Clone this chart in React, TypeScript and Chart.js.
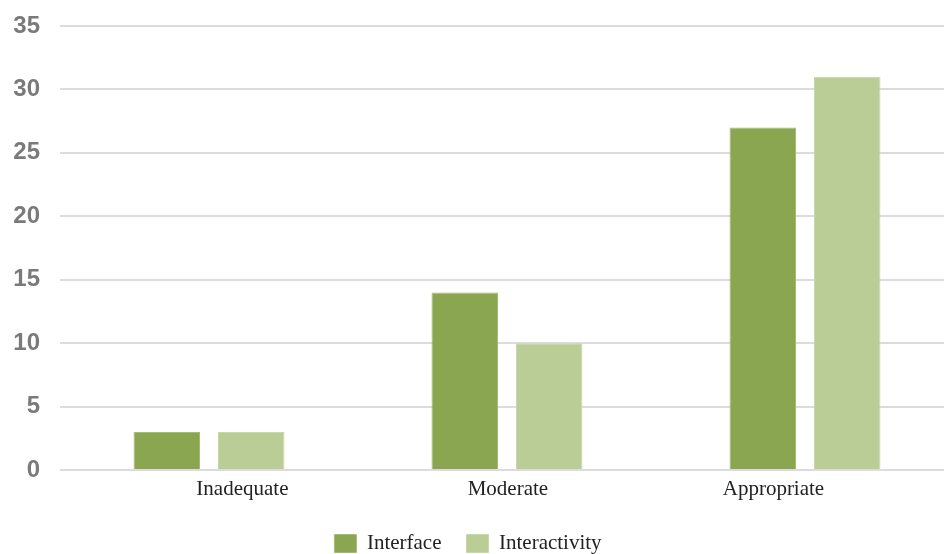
import React, { useEffect, useRef } from "react";
import { Chart, registerables } from "chart.js";

Chart.register(...registerables);

const categories = ["Inadequate", "Moderate", "Appropriate"];
const interfaceValues = [3, 14, 27];
const interactivityValues = [3, 10, 31];
const seriesNames = ["Interface", "Interactivity"];

export default function App() {
  const ref = useRef<HTMLCanvasElement | null>(null);
  useEffect(() => {
    document.documentElement.style.overflow = "hidden";
    if (!ref.current) return;
    const chart = new Chart(ref.current, {
      type: "bar",
      data: {
        labels: categories,
        datasets: [
          {
            label: seriesNames[0],
            data: interfaceValues,
            backgroundColor: "#8ba650",
            borderColor: "#a3bb72",
            borderWidth: 1,
            barPercentage: 0.787,
            categoryPercentage: 0.567,
          },
          {
            label: seriesNames[1],
            data: interactivityValues,
            backgroundColor: "#bacd96",
            borderColor: "#c8d8aa",
            borderWidth: 1,
            barPercentage: 0.787,
            categoryPercentage: 0.567,
          },
        ],
      },
      options: {
        animation: false,
        responsive: false,
        maintainAspectRatio: false,
        layout: { padding: { top: 26, left: -18, right: 0, bottom: -10 } },
        plugins: {
          tooltip: { enabled: false },
          legend: {
            position: "bottom",
            labels: {
              boxWidth: 22,
              boxHeight: 18,
              padding: 25,
              color: "#222",
              font: { family: "'Liberation Serif', 'Times New Roman', serif", size: 21 },
            },
          },
        },
        scales: {
          x: {
            display: false,
            grid: { display: false },
          },
          xLabels: {
            type: "linear",
            position: "bottom",
            offset: false,
            min: -0.687,
            max: 2.68,
            grid: { display: false, drawTicks: false, offset: false },
            border: { display: false },
            afterBuildTicks: (axis: any) => {
              axis.ticks = categories.map((_, i) => ({ value: i }));
            },
            ticks: {
              color: "#222",
              padding: 7,
              autoSkip: false,
              maxRotation: 0,
              font: { family: "'Liberation Serif', 'Times New Roman', serif", size: 21 },
              callback: (v: any) => categories[Math.round(Number(v))] ?? "",
            },
            afterFit: (axis: any) => {
              axis.height = 38;
              axis.paddingLeft = 0;
              axis.paddingRight = 0;
            },
          },
          y: {
            min: 0,
            max: 35,
            ticks: {
              stepSize: 5,
              color: "#7a7a7a",
              padding: 20,
              font: { family: "'Liberation Sans', Arial, sans-serif", size: 24, weight: "bold" },
            },
            grid: { color: "#dcdcdc", lineWidth: 2, drawTicks: false },
            border: { display: false },
            afterFit: (axis: any) => {
              axis.width = 78;
              axis.paddingTop = 0;
              axis.paddingBottom = 0;
            },
          },
        },
      },
    });
    return () => chart.destroy();
  }, []);
  return (
    <div style={{ position: "fixed", left: 0, top: 0, width: 954, height: 554 }}>
      <canvas ref={ref} width={954} height={554} style={{ display: "block" }} />
    </div>
  );
}
